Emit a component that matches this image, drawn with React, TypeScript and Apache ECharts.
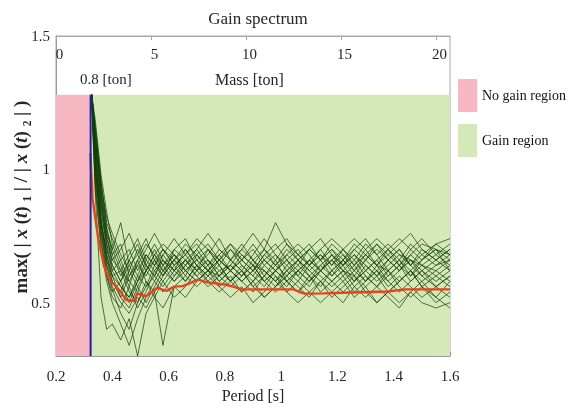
import React, { useEffect, useRef } from "react";
import * as echarts from "echarts";

const periods = [0.327,0.34,0.36,0.38,0.40,0.43,0.46,0.49,0.52,0.55,0.58,0.62,0.66,0.70,0.74,0.78,0.82,0.86,0.90,0.94,0.98,1.02,1.06,1.10,1.14,1.18,1.22,1.26,1.30,1.34,1.38,1.42,1.46,1.50,1.55,1.60];

const g1 = [1.28,1.10,0.88,0.72,0.66,0.62,0.58,0.64,0.60,0.66,0.70,0.64,0.68,0.72,0.66,0.62,0.64,0.60,0.66,0.62,0.58,0.62,0.66,0.60,0.64,0.68,0.62,0.58,0.62,0.66,0.70,0.64,0.60,0.66,0.70,0.66];
const g2 = [1.27,1.05,0.82,0.68,0.60,0.52,0.48,0.56,0.62,0.58,0.64,0.68,0.62,0.66,0.70,0.64,0.58,0.62,0.56,0.60,0.66,0.58,0.54,0.60,0.56,0.62,0.66,0.60,0.56,0.60,0.54,0.58,0.62,0.56,0.52,0.58];
const g3 = [1.28,1.15,0.95,0.80,0.74,0.66,0.70,0.62,0.68,0.64,0.60,0.70,0.74,0.66,0.62,0.68,0.72,0.66,0.70,0.64,0.68,0.62,0.66,0.70,0.74,0.68,0.64,0.70,0.66,0.72,0.68,0.64,0.70,0.74,0.68,0.72];
const g4 = [1.26,0.98,0.76,0.62,0.55,0.46,0.40,0.50,0.56,0.60,0.56,0.62,0.58,0.64,0.60,0.56,0.60,0.54,0.58,0.52,0.56,0.60,0.56,0.52,0.58,0.54,0.50,0.56,0.60,0.56,0.52,0.48,0.54,0.58,0.52,0.48];
const g5 = [1.28,1.12,0.90,0.76,0.70,0.80,0.64,0.58,0.66,0.72,0.66,0.62,0.70,0.64,0.68,0.74,0.66,0.70,0.76,0.70,0.80,0.72,0.66,0.62,0.66,0.70,0.64,0.68,0.62,0.66,0.60,0.64,0.68,0.64,0.60,0.64];
const g6 = [1.27,1.02,0.80,0.66,0.58,0.54,0.62,0.56,0.50,0.56,0.62,0.58,0.64,0.60,0.56,0.60,0.66,0.62,0.58,0.64,0.60,0.56,0.62,0.66,0.62,0.58,0.54,0.58,0.64,0.60,0.66,0.70,0.64,0.60,0.64,0.68];
const g7 = [1.28,1.18,0.98,0.84,0.72,0.64,0.56,0.66,0.72,0.68,0.62,0.66,0.60,0.68,0.72,0.66,0.62,0.58,0.62,0.68,0.64,0.70,0.66,0.62,0.58,0.62,0.66,0.72,0.68,0.64,0.58,0.62,0.66,0.60,0.56,0.60];
const g8 = [1.25,0.92,0.70,0.58,0.50,0.42,0.34,0.44,0.52,0.58,0.54,0.60,0.66,0.62,0.58,0.54,0.58,0.62,0.56,0.52,0.56,0.62,0.58,0.54,0.50,0.54,0.58,0.52,0.56,0.50,0.54,0.58,0.62,0.56,0.50,0.54];
const g9 = [1.28,1.08,0.86,0.70,0.64,0.58,0.66,0.72,0.64,0.60,0.68,0.74,0.68,0.62,0.66,0.60,0.64,0.70,0.66,0.60,0.64,0.68,0.72,0.68,0.62,0.66,0.70,0.66,0.72,0.68,0.62,0.66,0.72,0.68,0.72,0.74];
const g10 = [1.26,1.00,0.78,0.64,0.56,0.50,0.46,0.52,0.48,0.54,0.34,0.56,0.60,0.56,0.60,0.64,0.58,0.54,0.58,0.62,0.58,0.54,0.58,0.64,0.60,0.56,0.60,0.54,0.58,0.62,0.56,0.60,0.56,0.52,0.56,0.60];
const g11 = [1.28,1.14,0.92,0.78,0.68,0.72,0.60,0.64,0.70,0.76,0.70,0.64,0.68,0.74,0.70,0.64,0.70,0.66,0.62,0.68,0.72,0.66,0.62,0.66,0.70,0.64,0.68,0.62,0.66,0.70,0.66,0.70,0.64,0.68,0.64,0.66];
const g12 = [1.27,0.96,0.74,0.60,0.52,0.48,0.56,0.48,0.54,0.62,0.58,0.52,0.56,0.62,0.66,0.60,0.56,0.60,0.64,0.58,0.54,0.58,0.62,0.58,0.62,0.58,0.62,0.66,0.60,0.56,0.62,0.56,0.52,0.56,0.60,0.56];
const g13 = [1.28,1.06,0.84,0.72,0.62,0.56,0.52,0.60,0.68,0.64,0.70,0.66,0.72,0.68,0.64,0.70,0.66,0.62,0.68,0.74,0.68,0.64,0.68,0.72,0.66,0.72,0.68,0.64,0.70,0.64,0.68,0.72,0.76,0.70,0.66,0.70];
const g14 = [1.25,0.90,0.52,0.40,0.42,0.36,0.44,0.30,0.46,0.52,0.48,0.56,0.52,0.58,0.62,0.56,0.52,0.56,0.50,0.54,0.60,0.54,0.50,0.54,0.58,0.52,0.56,0.60,0.54,0.50,0.54,0.50,0.54,0.50,0.48,0.50];
const g15 = [1.28,1.12,0.94,0.82,0.76,0.68,0.62,0.70,0.64,0.70,0.64,0.70,0.66,0.70,0.76,0.70,0.66,0.72,0.66,0.70,0.66,0.72,0.68,0.64,0.68,0.64,0.70,0.74,0.70,0.74,0.70,0.66,0.62,0.66,0.70,0.62];
const g16 = [1.27,1.04,0.80,0.68,0.60,0.62,0.54,0.50,0.58,0.52,0.58,0.64,0.58,0.64,0.58,0.62,0.58,0.64,0.60,0.66,0.62,0.66,0.60,0.56,0.62,0.66,0.60,0.64,0.58,0.62,0.58,0.54,0.58,0.62,0.58,0.62];
const g17 = [1.28,1.09,0.87,0.74,0.68,0.60,0.66,0.60,0.56,0.64,0.68,0.62,0.66,0.62,0.70,0.66,0.62,0.68,0.64,0.58,0.62,0.68,0.64,0.70,0.66,0.60,0.64,0.68,0.64,0.60,0.64,0.68,0.66,0.62,0.66,0.62];
const g18 = [1.27,1.01,0.79,0.70,0.62,0.66,0.58,0.54,0.62,0.66,0.60,0.66,0.70,0.64,0.60,0.66,0.70,0.64,0.60,0.56,0.62,0.66,0.70,0.64,0.68,0.62,0.58,0.62,0.68,0.72,0.66,0.62,0.68,0.72,0.70,0.68];
const g19 = [1.28,1.16,0.96,0.78,0.70,0.62,0.68,0.74,0.66,0.62,0.66,0.60,0.64,0.70,0.64,0.68,0.62,0.66,0.72,0.66,0.62,0.58,0.62,0.58,0.64,0.60,0.66,0.62,0.58,0.64,0.62,0.58,0.62,0.58,0.62,0.58];
const g20 = [1.26,0.94,0.72,0.60,0.54,0.58,0.50,0.58,0.64,0.60,0.66,0.62,0.66,0.60,0.64,0.58,0.62,0.58,0.62,0.58,0.62,0.58,0.54,0.58,0.62,0.68,0.64,0.58,0.62,0.58,0.62,0.66,0.60,0.64,0.68,0.64];
const g21 = [1.28,1.11,0.89,0.74,0.66,0.70,0.76,0.68,0.62,0.68,0.72,0.68,0.62,0.66,0.62,0.58,0.62,0.66,0.62,0.66,0.70,0.74,0.68,0.64,0.70,0.74,0.70,0.64,0.68,0.64,0.70,0.74,0.70,0.66,0.72,0.68];
const g22 = [1.27,0.99,0.77,0.64,0.58,0.52,0.60,0.66,0.58,0.54,0.60,0.66,0.62,0.58,0.62,0.66,0.62,0.58,0.54,0.60,0.56,0.60,0.64,0.60,0.54,0.58,0.62,0.56,0.52,0.56,0.60,0.64,0.58,0.62,0.56,0.52];
const g23 = [1.28,1.13,0.92,0.76,0.64,0.58,0.64,0.68,0.74,0.66,0.62,0.68,0.64,0.68,0.62,0.66,0.72,0.68,0.64,0.70,0.64,0.60,0.66,0.70,0.66,0.70,0.66,0.70,0.74,0.68,0.72,0.68,0.64,0.70,0.66,0.70];
const g24 = [1.27,1.03,0.81,0.66,0.60,0.56,0.52,0.58,0.62,0.68,0.64,0.58,0.62,0.58,0.62,0.60,0.64,0.60,0.64,0.62,0.58,0.64,0.60,0.66,0.62,0.66,0.62,0.60,0.66,0.62,0.66,0.62,0.66,0.64,0.62,0.66];
const greenLines = [g1,g2,g3,g4,g5,g6,g7,g8,g9,g10,g11,g12,g13,g14,g15,g16,g17,g18,g19,g20,g21,g22,g23,g24];

const redX = [0.322,0.33,0.35,0.37,0.39,0.41,0.43,0.45,0.47,0.48,0.488,0.50,0.52,0.54,0.56,0.575,0.593,0.61,0.62,0.65,0.68,0.704,0.72,0.737,0.77,0.80,0.83,0.86,0.92,0.98,1.045,1.065,1.084,1.15,1.22,1.31,1.38,1.44,1.52,1.6];
const redY = [1.06,0.89,0.74,0.64,0.585,0.565,0.54,0.51,0.507,0.507,0.536,0.53,0.524,0.54,0.556,0.55,0.544,0.555,0.56,0.562,0.575,0.587,0.582,0.576,0.572,0.568,0.56,0.55,0.55,0.55,0.55,0.54,0.534,0.535,0.537,0.54,0.542,0.55,0.55,0.55];

const boundaryPeriod = 0.323;
const regionTop = 1.28;
const periodRange = [0.2, 1.6];
const massRange = [0, 20.74];
const yRange = [0.3, 1.5];

const FONT = "Liberation Serif, DejaVu Serif, serif";
const TXT = "#262626";

export default function App() {
  const ref = useRef<HTMLDivElement>(null);
  useEffect(() => {
    const chart = echarts.init(ref.current!, null, { renderer: "svg" });
    const series: any[] = [
      {
        name: "No gain region",
        type: "line",
        data: [[periodRange[0], regionTop], [boundaryPeriod, regionTop]],
        symbol: "none",
        lineStyle: { width: 0 },
        itemStyle: { color: "#f7b8c4" },
        areaStyle: { color: "#f7b8c4", opacity: 1, origin: "start" },
        z: 1,
      },
      {
        name: "Gain region",
        type: "line",
        data: [[boundaryPeriod, regionTop], [periodRange[1], regionTop]],
        symbol: "none",
        lineStyle: { width: 0 },
        itemStyle: { color: "#d5e8b9" },
        areaStyle: { color: "#d5e8b9", opacity: 1, origin: "start" },
        z: 1,
      },
      ...greenLines.map((g, i) => ({
        name: "run" + i,
        type: "line",
        data: periods.map((p, j) => [p, g[j]]),
        symbol: "none",
        lineStyle: { width: 1, color: "rgba(20,64,8,0.72)" },
        z: 3,
      })),
      {
        name: "mean",
        type: "line",
        data: redX.map((x, i) => [x, redY[i]]),
        symbol: "none",
        lineStyle: { width: 2.4, color: "#e8421c" },
        z: 4,
      },
      {
        name: "limit",
        type: "line",
        data: [[boundaryPeriod, yRange[0]], [boundaryPeriod, regionTop]],
        symbol: "none",
        lineStyle: { width: 2, color: "#1f239c" },
        z: 5,
      },
    ];
    const sp = " ";
    chart.setOption({
      animation: false,
      textStyle: { fontFamily: FONT },
      title: {
        text: "Gain spectrum",
        left: 253,
        textAlign: "center",
        top: 5,
        textStyle: { fontFamily: FONT, fontSize: 17, fontWeight: "normal", color: TXT },
      },
      grid: {
        left: 56,
        right: 120,
        top: 36,
        bottom: 64,
        outerBoundsMode: "none",
        containLabel: false,
        show: true,
        borderColor: "#a8a8a8",
        borderWidth: 1,
        backgroundColor: "#fff",
      },
      legend: {
        data: ["No gain region", "Gain region"],
        orient: "vertical",
        left: 458,
        top: 79,
        padding: 0,
        itemWidth: 19,
        itemHeight: 33,
        itemGap: 12,
        icon: "rect",
        selectedMode: false,
        textStyle: { fontFamily: FONT, fontSize: 14, color: "#111" },
      },
      xAxis: [
        {
          type: "value",
          position: "bottom",
          min: periodRange[0],
          max: periodRange[1],
          interval: 0.2,
          name: "Period [s]",
          nameLocation: "middle",
          nameGap: 31,
          nameTextStyle: { fontFamily: FONT, fontSize: 16, color: TXT },
          axisLine: { show: true, lineStyle: { color: "#9a9a9a" } },
          axisTick: { show: true, inside: true, length: 4, lineStyle: { color: "#9a9a9a" } },
          axisLabel: { fontFamily: FONT, fontSize: 15, color: TXT, margin: 12 },
          splitLine: { show: false },
        },
        {
          type: "value",
          position: "top",
          min: massRange[0],
          max: massRange[1],
          interval: 5,
          axisLine: { show: true, lineStyle: { color: "#a8a8a8" } },
          axisTick: { show: true, inside: true, length: 4, lineStyle: { color: "#a8a8a8" } },
          axisLabel: {
            inside: true,
            fontFamily: FONT,
            fontSize: 15,
            color: TXT,
            margin: 10,
            padding: [0, 0, 0, 7],
            showMaxLabel: false,
            formatter: (v: number) => (v > 20.5 ? "" : String(v)),
          },
          splitLine: { show: false },
        },
      ],
      yAxis: {
        type: "value",
        min: yRange[0],
        max: yRange[1],
        interval: 0.1,
        axisLine: { show: true, lineStyle: { color: "#9a9a9a" } },
        axisTick: { show: false },
        axisLabel: {
          fontFamily: FONT,
          fontSize: 15,
          color: TXT,
          margin: 6,
          formatter: (v: number) => {
            const r = Math.round(v * 10) / 10;
            return Math.abs(r * 2 - Math.round(r * 2)) < 1e-6 ? String(r) : "";
          },
        },
        splitLine: { show: false },
      },
      graphic: [
        {
          type: "text",
          x: 20,
          y: 197,
          rotation: Math.PI / 2,
          style: {
            text: `{b|max(${sp}|${sp}}{i|x}{b|${sp}(}{i|t}{b|)${sp}₁${sp}|${sp}/${sp}|${sp}}{i|x}{b|${sp}(}{i|t}{b|)${sp}₂${sp}|${sp})}`,
            align: "center",
            verticalAlign: "middle",
            rich: {
              b: { fontFamily: FONT, fontSize: 19, fontWeight: "bold", fill: TXT },
              i: { fontFamily: FONT, fontSize: 19, fontWeight: "bold", fontStyle: "italic", fill: TXT },
            },
          },
          z: 10,
        },
        {
          type: "text",
          left: 80,
          top: 71,
          style: { text: "0.8 [ton]", font: `15px ${FONT}`, fill: TXT },
          z: 10,
        },
        {
          type: "text",
          left: 215,
          top: 71,
          style: { text: "Mass [ton]", font: `16px ${FONT}`, fill: TXT },
          z: 10,
        },
      ],
      series,
    });
    return () => chart.dispose();
  }, []);
  return (
    <div
      ref={ref}
      style={{ position: "fixed", left: 0, top: 0, width: 570, height: 420 }}
    />
  );
}
